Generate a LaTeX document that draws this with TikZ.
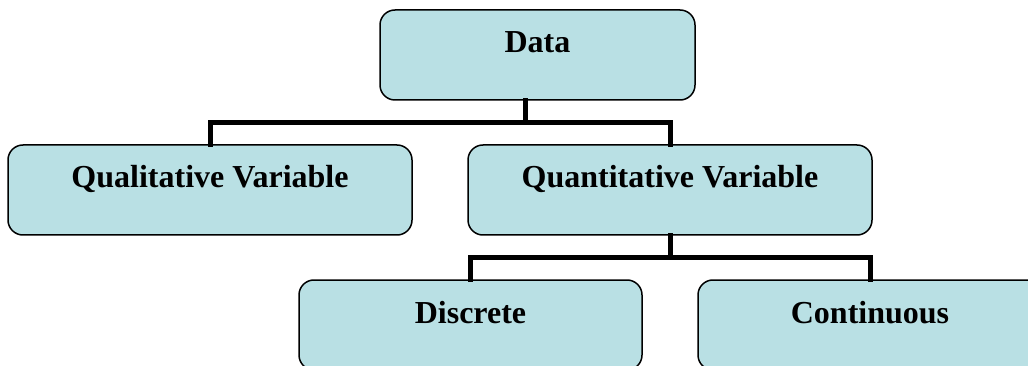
\documentclass[tikz,border=0pt]{standalone}
\usepackage{fontspec}
\setmainfont{Liberation Serif}
\definecolor{boxfill}{RGB}{185,224,228}
\begin{document}
\begin{tikzpicture}[x=1pt,y=-1pt,
  box/.style={draw=black,line width=1.5pt,fill=boxfill,rounded corners=15pt,
    inner xsep=0pt,inner ysep=0pt,text height=43pt,text depth=47pt,
    font=\fontsize{32}{38}\selectfont\bfseries,anchor=center},
  conn/.style={line width=5pt,line join=miter,line cap=rect}]
\useasboundingbox (0,0) rectangle (1028,366);
\clip (0,0) rectangle (1028,366);
\node[box,minimum width=315pt] (data) at (537.5,55) {Data};
\node[box,minimum width=404pt] (qual) at (210,190) {Qualitative Variable};
\node[box,minimum width=404pt] (quant) at (670,190) {Quantitative Variable};
\node[box,minimum width=343pt] (disc) at (470.5,325) {Discrete};
\node[box,minimum width=344pt] (cont) at (870,325) {Continuous};
\coordinate (j1) at (525,123);
\coordinate (j2) at (670,257);
\draw[conn] ([xshift=-12.5pt]data.south) -- (j1);
\draw[conn] (qual.north) |- (j1) -| (quant.north);
\draw[conn] (quant.south) -- (j2);
\draw[conn] (disc.north) |- (j2) -| (cont.north);
\end{tikzpicture}
\end{document}
